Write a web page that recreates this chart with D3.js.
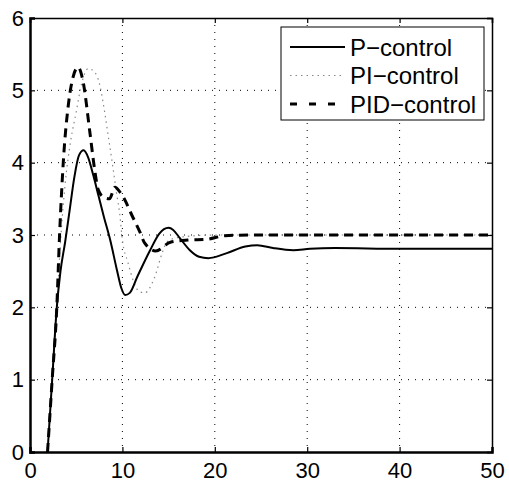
<!DOCTYPE html>
<html>
<head>
<meta charset="utf-8">
<script src="https://cdn.jsdelivr.net/npm/d3@7"></script>
<style>
  body { margin: 0; background: #fff; }
  text { font-family: "Liberation Sans", Arial, sans-serif; fill: #000; }
</style>
</head>
<body>
<div id="chart"></div>
<script>
// [time, output]
const pControl = [
  [1.9, 0], [2.4, 1], [2.9, 2], [3.3, 2.5], [3.8, 2.9], [4.3, 3.35], [4.8, 3.8],
  [5.3, 4.1], [5.8, 4.17], [6.3, 4.07], [6.8, 3.85], [7.4, 3.55], [8.0, 3.25],
  [8.7, 2.92], [9.4, 2.52], [9.9, 2.26], [10.3, 2.17], [10.8, 2.2], [11.6, 2.42],
  [13.0, 2.79], [14.0, 3.02], [14.5, 3.08], [15.0, 3.1], [15.5, 3.07], [16.2, 2.96],
  [17.3, 2.79], [18.3, 2.7], [19.3, 2.68], [21.3, 2.75], [23.3, 2.84], [24.6, 2.86],
  [26.3, 2.82], [28.5, 2.79], [30.3, 2.81], [33, 2.82], [40, 2.81], [50, 2.81]
]
const piControl = [
  [1.9, 0], [2.4, 1], [2.9, 2], [3.3, 2.9], [3.8, 3.7], [4.4, 4.3], [5.0, 4.7],
  [5.6, 5.1], [6.3, 5.3], [7.0, 5.25], [7.5, 5.1], [7.9, 4.84], [8.5, 4.34],
  [8.9, 4.0], [9.4, 3.55], [9.7, 3.3], [10.0, 2.93], [10.6, 2.62], [11.2, 2.36],
  [11.8, 2.22], [12.4, 2.2], [13.5, 2.42], [14.3, 2.75], [14.8, 2.9], [15.5, 2.95],
  [17, 2.98], [20, 3.0], [50, 3.0]
]
const pidControl = [
  [1.9, 0], [2.4, 1], [2.9, 2], [3.2, 3], [3.6, 4], [4.2, 4.85], [4.7, 5.2],
  [5.2, 5.32], [5.7, 5.15], [6.5, 4.4], [7.0, 3.9], [7.4, 3.62], [8.0, 3.52],
  [8.6, 3.5], [9.2, 3.66], [9.7, 3.6], [10.2, 3.5], [11.0, 3.28], [11.9, 3.04],
  [12.4, 2.89], [13.6, 2.78], [15.2, 2.9], [17.1, 2.93], [19.1, 2.94], [21.1, 2.99],
  [24, 3.0], [50, 3.0]
]
const seriesNames = ['P-control', 'PI-control', 'PID-control']
const xTicks = [0, 10, 20, 30, 40, 50]
const yTicks = [0, 1, 2, 3, 4, 5, 6]

const W = 509, H = 482
const margin = {top: 18, right: 17, bottom: 30, left: 30}
const width = W - margin.left - margin.right
const height = H - margin.top - margin.bottom

const svg = d3.select('#chart').append('svg')
  .attr('width', W).attr('height', H)
  .append('g')
  .attr('transform', 'translate(' + margin.left + ',' + margin.top + ')')

const x = d3.scaleLinear().domain([0, 50]).range([0, width])
const y = d3.scaleLinear().domain([0, 6]).range([height, 0])

// dotted grid
svg.append('g').selectAll('line').data(xTicks.slice(1, -1)).join('line')
  .attr('x1', d => x(d)).attr('x2', d => x(d)).attr('y1', 0).attr('y2', height)
  .attr('stroke', '#000').attr('stroke-width', 1).attr('stroke-dasharray', '1,6')
svg.append('g').selectAll('line').data(yTicks.slice(1, -1)).join('line')
  .attr('x1', 0).attr('x2', width).attr('y1', d => y(d)).attr('y2', d => y(d))
  .attr('stroke', '#000').attr('stroke-width', 1).attr('stroke-dasharray', '1,6')

const styles = [
  {stroke: '#000', width: 2, dash: null},
  {stroke: '#888', width: 1.2, dash: '1.5,4'},
  {stroke: '#000', width: 3, dash: '9,6'}
]
const allSeries = [pControl, piControl, pidControl]

const line = d3.line()
  .x(d => x(d[0]))
  .y(d => y(d[1]))
  .curve(d3.curveMonotoneX)

// draw PI first, then P, then PID on top
;[1, 0, 2].forEach(i => {
  svg.append('path')
    .datum(allSeries[i])
    .attr('fill', 'none')
    .attr('stroke', styles[i].stroke)
    .attr('stroke-width', styles[i].width)
    .attr('stroke-dasharray', styles[i].dash)
    .attr('d', line)
})

// axes with inward ticks
const fmt = d3.format('d')
const xAxis = svg.append('g').attr('transform', 'translate(0,' + height + ')')
  .call(d3.axisBottom(x).tickValues(xTicks).tickFormat(fmt).tickSize(-5).tickPadding(10))
const yAxis = svg.append('g')
  .call(d3.axisLeft(y).tickValues(yTicks).tickFormat(fmt).tickSize(-5).tickPadding(6))
svg.append('g')
  .call(d3.axisTop(x).tickValues(xTicks).tickSize(-5).tickFormat(''))
svg.append('g').attr('transform', 'translate(' + width + ',0)')
  .call(d3.axisRight(y).tickValues(yTicks).tickSize(-5).tickFormat(''))

svg.selectAll('.domain').attr('stroke', '#000').attr('stroke-width', 1.5)
xAxis.select('.domain').attr('stroke-width', 2.5)
yAxis.select('.domain').attr('stroke-width', 2.5)
svg.selectAll('.tick line').attr('stroke', '#000').attr('stroke-width', 1.2)
svg.selectAll('.tick text').attr('font-size', 22)
  .style('font-family', '"Liberation Sans", Arial, sans-serif')

// legend
const legend = svg.append('g').attr('transform', 'translate(251,9)')
legend.append('rect')
  .attr('width', 203).attr('height', 93)
  .attr('fill', '#fff').attr('stroke', '#000').attr('stroke-width', 1)
seriesNames.forEach((name, i) => {
  const cy = 20 + i * 28.5
  legend.append('line')
    .attr('x1', 9).attr('x2', 64).attr('y1', cy).attr('y2', cy)
    .attr('stroke', styles[i].stroke)
    .attr('stroke-width', styles[i].width)
    .attr('stroke-dasharray', i === 2 ? '7,12' : styles[i].dash)
  legend.append('text')
    .attr('x', 69).attr('y', cy + 8.5)
    .attr('font-size', 24)
    .text(name.replace('-', '\u2212'))
})
</script>
</body>
</html>
